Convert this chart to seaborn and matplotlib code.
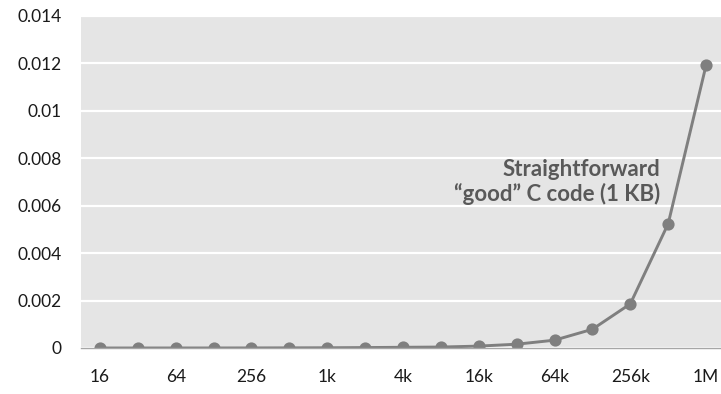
import numpy as np
import pandas as pd
import matplotlib
matplotlib.use("Agg")
import matplotlib.pyplot as plt
import seaborn as sns

# ---- data ----
sizes = ["16", "32", "64", "128", "256", "512", "1k", "2k", "4k", "8k",
         "16k", "32k", "64k", "128k", "256k", "512k", "1M"]
times = [0.0000002, 0.0000004, 0.0000008, 0.0000015, 0.000003, 0.000006,
         0.000010, 0.000018, 0.00003, 0.00004, 0.00008, 0.00016, 0.00033,
         0.00079, 0.00186, 0.00524, 0.01192]
tick_labels = ["16", "64", "256", "1k", "4k", "16k", "64k", "256k", "1M"]
y_ticks = [0, 0.002, 0.004, 0.006, 0.008, 0.01, 0.012, 0.014]
y_tick_labels = ["0", "0.002", "0.004", "0.006", "0.008", "0.01", "0.012", "0.014"]
annotation = "Straightforward\n\u201cgood\u201d C code (1 KB)"

df = pd.DataFrame({"size": sizes, "time": times})

sns.set_theme(style="white")
plt.rcParams["font.family"] = ["Lato", "DejaVu Sans"]

W, H = 721, 394
fig = plt.figure(figsize=(W / 100, H / 100), dpi=100)
left, right, top, bottom = 81, 725, 16, 348
ax = fig.add_axes([left / W, (H - bottom) / H, (right - left) / W, (bottom - top) / H])
ax.set_facecolor("#e5e5e5")

sns.pointplot(data=df, x="size", y="time", order=sizes, color="#7f7f7f",
              errorbar=None, markers="o", markersize=7.2, linewidth=2.1, ax=ax)

ax.set_xlim(-0.5, len(sizes) - 0.5)
ax.set_ylim(0, 0.014)
ax.set_yticks(y_ticks)
ax.set_yticklabels(y_tick_labels)
label_pos = [sizes.index(t) for t in tick_labels]
ax.set_xticks(label_pos)
ax.set_xticklabels(tick_labels)
ax.set_xticks(np.arange(-0.5, len(sizes), 1), minor=True)

ax.grid(axis="y", color="white", linewidth=1.6)
ax.set_axisbelow(True)
ax.tick_params(axis="y", length=0, pad=14, labelsize=12.5, labelcolor="#1a1a1a")
ax.tick_params(axis="x", which="major", length=0, pad=15, labelsize=12.5, labelcolor="#1a1a1a")
ax.tick_params(axis="x", which="minor", length=6, width=1, color="#a6a6a6", direction="out")
ax.set_xlabel("")
ax.set_ylabel("")
for s in ["top", "right", "left"]:
    ax.spines[s].set_visible(False)
ax.spines["bottom"].set_color("#a6a6a6")
ax.spines["bottom"].set_linewidth(1)

ax.text(14.78, 0.0070, annotation, ha="right", va="center", multialignment="right",
        fontsize=16, fontweight="bold", color="#595959", linespacing=1.2)

fig.savefig("out.png", dpi=100)
